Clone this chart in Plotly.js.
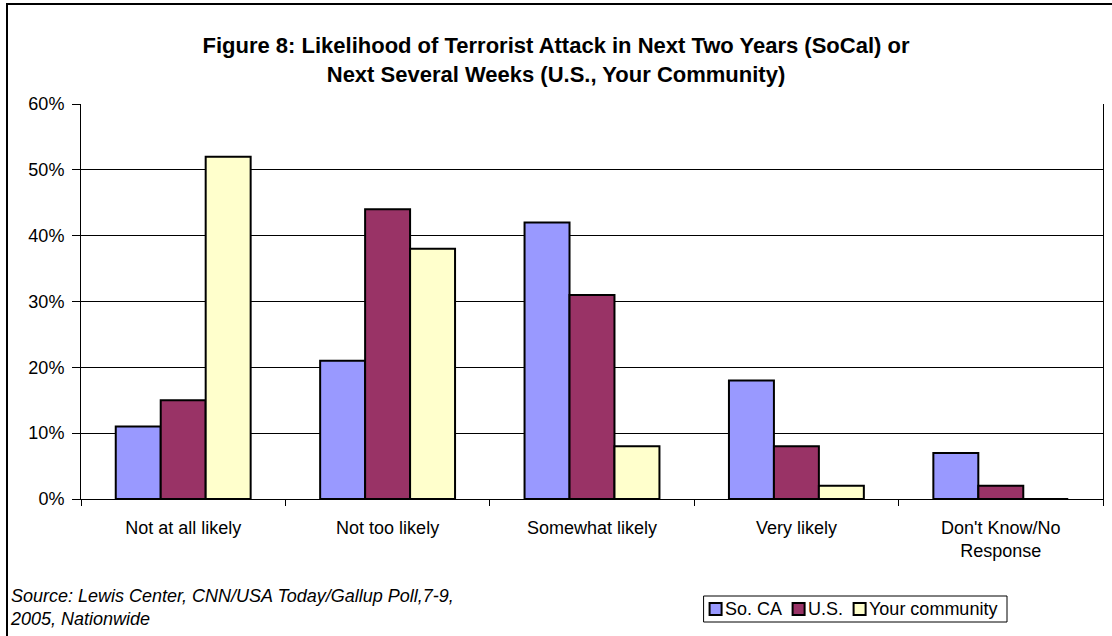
<!DOCTYPE html>
<html>
<head>
<meta charset="utf-8">
<script src="https://cdn.plot.ly/plotly-3.0.1.min.js"></script>
<style>
html,body{margin:0;padding:0;background:#fff;}
#chart{width:1112px;height:636px;}
</style>
</head>
<body>
<div id="chart"></div>
<script>
var categories = ["Not at all likely", "Not too likely", "Somewhat likely", "Very likely", "Don't Know/No<br>Response"];
var seriesNames = ["So. CA", "U.S.", "Your community"];
var soCA = [0.11, 0.21, 0.42, 0.18, 0.07];
var us = [0.15, 0.44, 0.31, 0.08, 0.02];
var community = [0.52, 0.38, 0.08, 0.02, 0];
var yTickVals = [0, 0.1, 0.2, 0.3, 0.4, 0.5, 0.6];
var yTickText = ["0%", "10%", "20%", "30%", "40%", "50%", "60%"];
var colors = ["#9999FF", "#993366", "#FFFFCC"];

var W = 1112, H = 636, L = 81, R = 9, T = 104, B = 137;
var pw = W - L - R, ph = H - T - B;
function px(x){ return (x - L) / pw; }
function py(y){ return (H - B - y) / ph; }

var font = "Liberation Sans, Arial, sans-serif";
var FS = 18;
var vals = [soCA, us, community];
var data = vals.map(function(v, i){
  return {
    type: "bar", name: seriesNames[i], x: categories, y: v,
    marker: {color: colors[i], line: {color: "#000", width: 2}},
    hoverinfo: "y", showlegend: false
  };
});

// compact legend (symbol right next to text, as in the reference)
var ctx = document.createElement("canvas").getContext("2d");
ctx.font = FS + "px " + font;
var sym = 12, symGap = 3, itemGap = 11, padL = 6, padR = 10;
var widths = seriesNames.map(function(n){ return ctx.measureText(n).width; });
var total = padL + padR;
widths.forEach(function(w, i){ total += sym + symGap + w + (i < widths.length - 1 ? itemGap : 0); });
var boxRight = 1007, boxTop = 596, boxBot = 622;
var boxLeft = boxRight - total;
var midY = (boxTop + boxBot) / 2;

var shapes = [{
  type: "rect", xref: "paper", yref: "paper", layer: "below",
  x0: px(7), x1: px(1130), y0: py(660), y1: py(4),
  line: {color: "#000", width: 2}, fillcolor: "rgba(0,0,0,0)"
}, {
  type: "rect", xref: "paper", yref: "paper",
  x0: px(boxLeft), x1: px(boxRight), y0: py(boxBot), y1: py(boxTop),
  line: {color: "#000", width: 1}, fillcolor: "#fff"
}];
var annotations = [{
  xref: "paper", yref: "paper", x: px(8), y: py(584), xanchor: "left", yanchor: "top",
  align: "left", showarrow: false,
  text: "<i>Source: Lewis Center, CNN/USA Today/Gallup Poll,7-9,<br>2005, Nationwide</i>",
  font: {size: FS}
}];
var cx = boxLeft + padL;
seriesNames.forEach(function(n, i){
  shapes.push({
    type: "rect", xref: "paper", yref: "paper",
    x0: px(cx), x1: px(cx + sym), y0: py(midY + sym / 2), y1: py(midY - sym / 2),
    line: {color: "#000", width: 2}, fillcolor: colors[i]
  });
  annotations.push({
    xref: "paper", yref: "paper", x: px(cx + sym + symGap - 1), y: py(midY),
    xanchor: "left", yanchor: "middle", showarrow: false, borderpad: 0,
    text: n, font: {size: FS}
  });
  cx += sym + symGap + widths[i] + itemGap;
});

var layout = {
  width: W, height: H,
  margin: {l: L, r: R, t: T, b: B, pad: 0},
  paper_bgcolor: "#fff", plot_bgcolor: "#fff",
  font: {family: font, size: FS, color: "#000"},
  barmode: "group", bargap: 0.34, bargroupgap: 0,
  showlegend: false,
  title: {
    text: "<b>Figure 8: Likelihood of Terrorist Attack in Next Two Years (SoCal) or<br>Next Several Weeks (U.S., Your Community)</b>",
    font: {family: font, size: 22, color: "#000"},
    x: 0.5, xref: "container", xanchor: "center",
    y: 1 - 53 / H, yref: "container", yanchor: "top"
  },
  xaxis: {
    type: "category", showline: true, linecolor: "#000", linewidth: 1,
    ticks: "outside", tickson: "boundaries", ticklen: 6, tickcolor: "#000",
    ticklabelstandoff: 12,
    showgrid: false, tickfont: {size: FS}, fixedrange: true
  },
  yaxis: {
    range: [0, 0.6], tickvals: yTickVals, ticktext: yTickText,
    showline: true, linecolor: "#000", linewidth: 1, mirror: true,
    ticks: "outside", ticklen: 8, tickcolor: "#000",
    ticklabelstandoff: 4,
    showgrid: true, gridcolor: "#000", gridwidth: 1, zeroline: false,
    tickfont: {size: FS}, fixedrange: true
  },
  annotations: annotations,
  shapes: shapes
};

Plotly.newPlot("chart", data, layout, {displayModeBar: false, staticPlot: true});
</script>
</body>
</html>
